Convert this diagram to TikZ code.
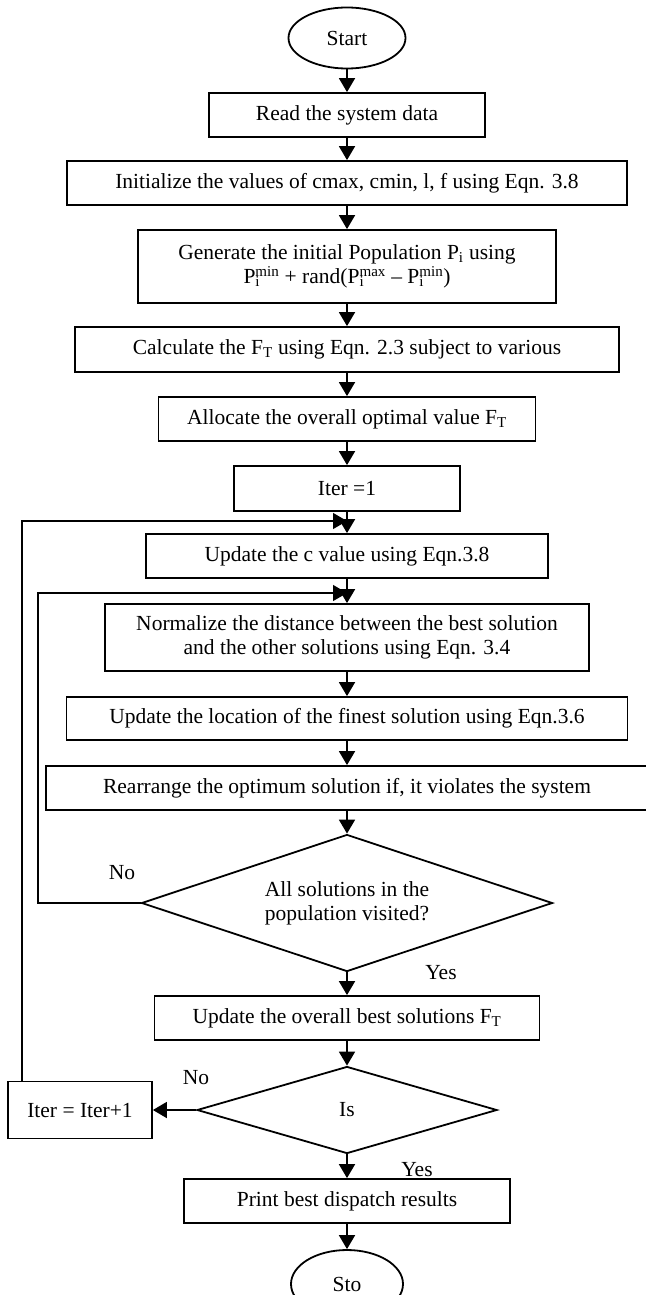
\documentclass[tikz,border=0pt]{standalone}
\usepackage{fontspec}
\setmainfont{Liberation Serif}
\usetikzlibrary{shapes.geometric,arrows.meta,calc}

% P_i with stacked sub- and superscript
\newcommand{\Pimm}[1]{P\rlap{\textsubscript{i}}\textsuperscript{#1}}

\begin{document}
\begin{tikzpicture}[x=1pt,y=-1pt,
	every node/.style={font=\fontsize{21.5}{24}\selectfont},
	process/.style={draw, line width=1.8pt, rectangle, inner sep=0pt, align=center},
	terminal/.style={draw, line width=1.8pt, ellipse, inner sep=0pt},
	decision/.style={draw, line width=1.8pt, diamond, aspect=3, inner sep=0pt, align=center},
	flow/.style={-{Triangle[width=16pt,length=14pt]}, line width=1.8pt},
	back/.style={flow, line width=1.3pt}]
	%Definitions%
	%===========================================================
	\def \cx {347}; %x of the main column
	\useasboundingbox (0,0) rectangle (645,1295);
	%Main column%
	%===========================================================
	\node[terminal, minimum width=117pt, minimum height=61pt] (start) at (\cx,38) {Start};
	\node[process, minimum width=276pt, minimum height=44pt] (read) at (\cx,115) {Read the system data};
	\node[process, minimum width=560pt, minimum height=44pt] (init) at (\cx,183) {Initialize the values of cmax, cmin, l, f using Eqn. 3.8};
	\node[process, minimum width=418pt, minimum height=73pt] (gen) at (\cx,266.5) {Generate the initial Population P\textsubscript{i} using\\ \Pimm{min} + rand(\Pimm{max} – \Pimm{min})};
	\node[process, minimum width=544pt, minimum height=45pt] (calc) at (\cx,349.5) {Calculate the F\textsubscript{T} using Eqn. 2.3 subject to various};
	\node[process, minimum width=377pt, minimum height=44pt] (alloc) at (\cx,419) {Allocate the overall optimal value F\textsubscript{T}};
	\node[process, minimum width=226pt, minimum height=45pt] (iter) at (\cx,488.5) {Iter =1};
	\node[process, minimum width=402pt, minimum height=44pt] (updc) at (\cx,556) {Update the c value using Eqn.3.8};
	\node[process, minimum width=484pt, minimum height=67pt] (norm) at (\cx,637.5) {Normalize the distance between the best solution\\ and the other solutions using Eqn. 3.4};
	\node[process, minimum width=561pt, minimum height=43pt] (updloc) at (\cx,718.5) {Update the location of the finest solution using Eqn.3.6};
	\node[process, minimum width=602pt, minimum height=44pt] (rearr) at (\cx,788) {Rearrange the optimum solution if, it violates the system};
	\node[decision, minimum width=411pt, minimum height=137pt] (visit) at (\cx,903) {All solutions in the\\ population visited?};
	\node[process, minimum width=385pt, minimum height=44pt] (best) at (\cx,1018) {Update the overall best solutions F\textsubscript{T}};
	\node[decision, minimum width=300pt, minimum height=87pt] (ismax) at (\cx,1110) {Is};
	\node[process, minimum width=326pt, minimum height=44pt] (print) at (\cx,1201) {Print best dispatch results};
	\node[terminal, minimum width=112pt, minimum height=68pt] (stop) at (\cx,1284) {Sto};
	%Counter box%
	\node[process, minimum width=144pt, minimum height=57pt] (inc) at (80,1110) {Iter = Iter+1};
	%Labels%
	\node (no1) at (122,873) {No};
	\node (yes1) at (441,973) {Yes};
	\node (no2) at (196,1078) {No};
	\node (yes2) at (417,1170) {Yes};
	%Loop corners%
	%===========================================================
	\coordinate (up1) at (22,521); %Outer loop corner
	\coordinate (in1) at (\cx,521); %Outer loop entry
	\coordinate (up2) at (38,593); %Inner loop corner
	\coordinate (in2) at (\cx,593); %Inner loop entry
	\draw[back] (inc.north -| up1) -- (up1) -- (in1); %Next iteration
	\draw[back] (visit.west) -- (visit.west -| up2) -- (up2) -- (in2); %Next solution
	%Connectors%
	%===========================================================
	\draw[flow] (start) -- (read);
	\draw[flow] (read) -- (init);
	\draw[flow] (init) -- (gen);
	\draw[flow] (gen) -- (calc);
	\draw[flow] (calc) -- (alloc);
	\draw[flow] (alloc) -- (iter);
	\draw[flow] (iter) -- (updc);
	\draw[flow] (updc) -- (norm);
	\draw[flow] (norm) -- (updloc);
	\draw[flow] (updloc) -- (rearr);
	\draw[flow] (rearr) -- (visit);
	\draw[flow] (visit) -- (best);
	\draw[flow] (best) -- (ismax);
	\draw[flow] (ismax) -- (print);
	\draw[flow] (print) -- (stop);
	\draw[flow] (ismax) -- (inc);
\end{tikzpicture}
\end{document}
